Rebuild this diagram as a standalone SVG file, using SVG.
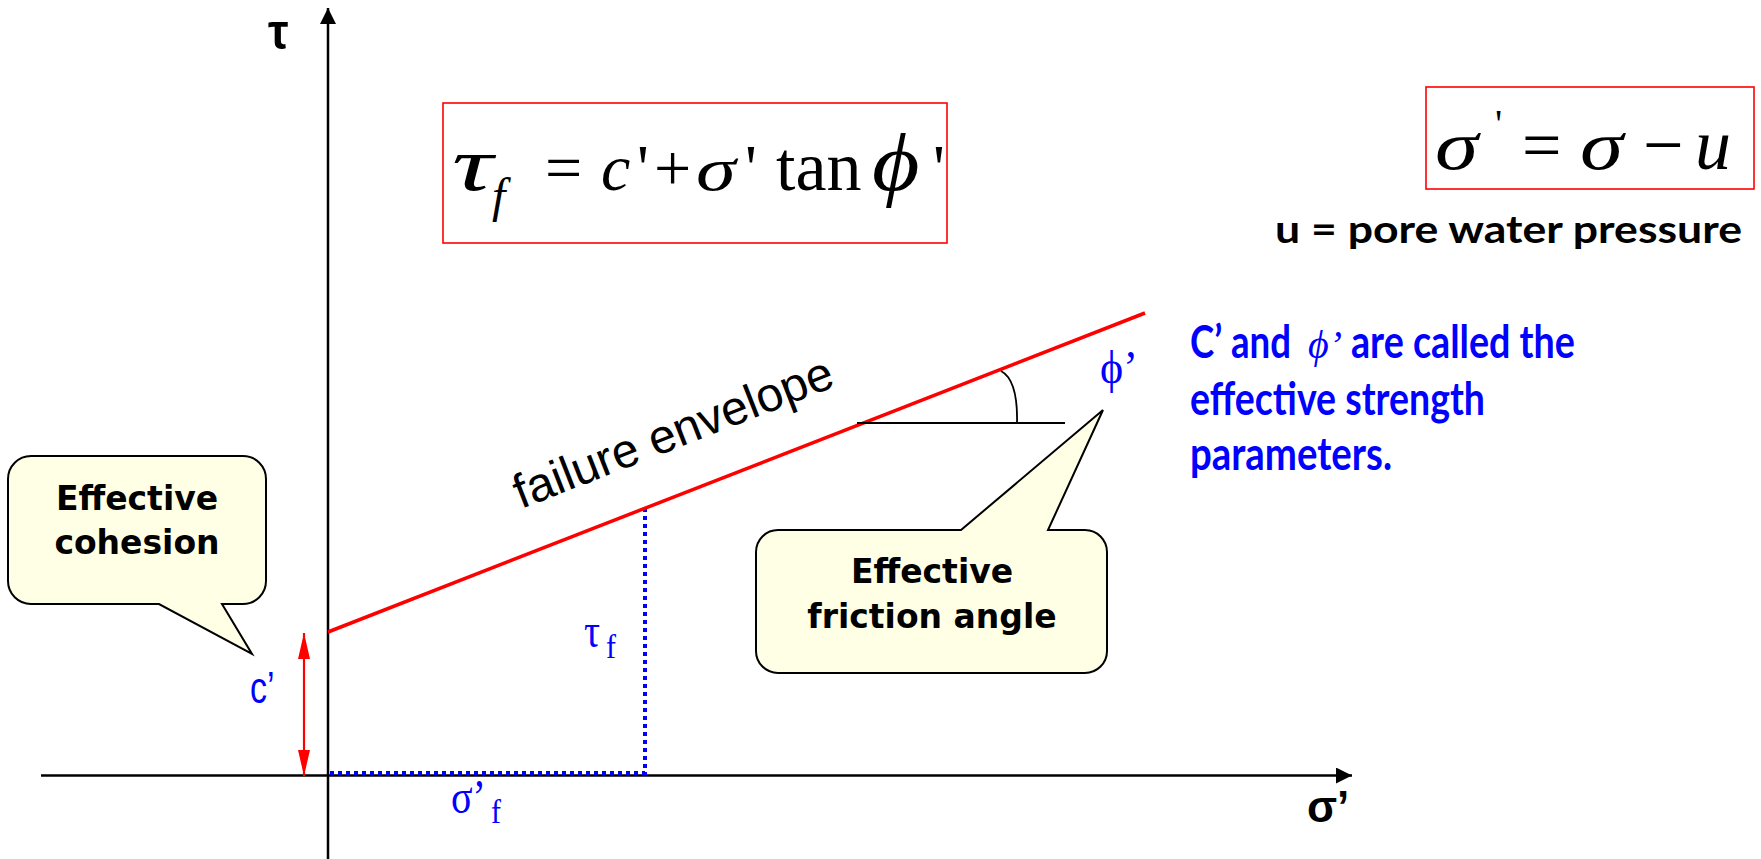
<svg xmlns="http://www.w3.org/2000/svg" width="1761" height="859" viewBox="0 0 1761 859">
<defs>
<style>
.axis{stroke:#000;stroke-width:2.5;fill:none}
.env{stroke:#FF0000;stroke-width:3.5;fill:none}
.dot{stroke:#0000FF;stroke-width:4;stroke-dasharray:4 4;fill:none}
.thin{stroke:#000;stroke-width:1.8;fill:none}
.box{fill:#fff;stroke:#FF0000;stroke-width:1.6}
.call{fill:#FFFFE5;stroke:#000;stroke-width:2}
.ct{font-family:"DejaVu Sans",Verdana,sans-serif;font-weight:bold;font-size:33px;fill:#000;text-anchor:middle}
.serif{font-family:"Liberation Serif","DejaVu Serif",serif}
.it{font-style:italic}
.sans{font-family:"Liberation Sans",Arial,sans-serif}
.cal{font-family:Lato,"Open Sans",sans-serif;font-weight:bold}
.blue{fill:#0000FF}
</style>
<marker id="ah" markerUnits="userSpaceOnUse" markerWidth="16" markerHeight="16" refX="16" refY="8" orient="auto" viewBox="0 0 16 16">
<path d="M0,0 L16,8 L0,16 Z" fill="#000"/>
</marker>
<marker id="rh" markerUnits="userSpaceOnUse" markerWidth="26" markerHeight="12" refX="26" refY="6" orient="auto-start-reverse" viewBox="0 0 26 12">
<path d="M0,0 L26,6 L0,12 Z" fill="#FF0000"/>
</marker>
</defs>
<rect width="1761" height="859" fill="#fff"/>

<g id="connectors">
<line class="axis" x1="328" y1="859" x2="328" y2="8" marker-end="url(#ah)"/>
<line class="axis" x1="41" y1="775.5" x2="1352" y2="775.5" marker-end="url(#ah)"/>
<line class="dot" x1="330" y1="773" x2="645" y2="773"/>
<line class="dot" x1="645" y1="508" x2="645" y2="775"/>
<line class="env" x1="328" y1="632" x2="1145" y2="313"/>
<line class="thin" x1="857" y1="423" x2="1065" y2="423"/>
<path class="thin" d="M1001,371 Q1018,380 1017,423"/>
<line stroke="#FF0000" stroke-width="2.2" x1="304" y1="633" x2="304" y2="776" marker-start="url(#rh)" marker-end="url(#rh)"/>
</g>

<g id="axis-labels">
<text class="sans" font-weight="bold" font-size="46" transform="translate(268,49) scale(1,1.1)">τ</text>
<text class="sans" font-weight="bold" font-size="44" x="1307" y="822">σ’</text>
</g>

<g id="formula-main">
<rect class="box" x="443" y="103" width="504" height="140"/>
<text class="serif it" font-size="76" transform="translate(452,190) scale(1.5,1)">τ</text>
<text class="serif it" font-size="48" x="492" y="212">f</text>
<text class="serif" font-size="66" y="190"><tspan x="545">=</tspan><tspan class="it" x="601">c</tspan><tspan x="637">'</tspan><tspan x="654">+</tspan></text>
<text class="serif it" font-size="62" transform="translate(696,190) scale(1.3,1)">σ</text>
<text class="serif" font-size="66" x="745" y="190">'</text>
<text class="serif" font-size="70" x="776" y="190">tan</text>
<text class="serif it" font-size="82" transform="translate(872,190) scale(1.12,1)">ϕ</text>
<text class="serif" font-size="66" x="933" y="190">'</text>
</g>

<g id="formula-effective">
<rect class="box" x="1426" y="87" width="328" height="102"/>
<text class="serif it" font-size="70" transform="translate(1435,169) scale(1.25,1)">σ</text>
<text class="serif" font-size="40" x="1495" y="137">'</text>
<text class="serif" font-size="70" x="1522" y="169">=</text>
<text class="serif it" font-size="70" transform="translate(1580,169) scale(1.25,1)">σ</text>
<text class="serif" font-size="72" x="1643" y="169">−</text>
<text class="serif it" font-size="72" x="1695" y="169">u</text>
<text class="cal" font-size="38" x="1275" y="243" textLength="467" lengthAdjust="spacingAndGlyphs">u = pore water pressure</text>
</g>

<g id="note">
<text class="cal blue" font-size="46" x="1190" y="358" textLength="101" lengthAdjust="spacingAndGlyphs">C’ and</text>
<text class="serif it blue" font-size="40" x="1308" y="358">ϕ’</text>
<text class="cal blue" font-size="46" x="1351" y="358" textLength="224" lengthAdjust="spacingAndGlyphs">are called the</text>
<text class="cal blue" font-size="46" x="1190" y="415" textLength="295" lengthAdjust="spacingAndGlyphs">effective strength</text>
<text class="cal blue" font-size="46" x="1190" y="470" textLength="202" lengthAdjust="spacingAndGlyphs">parameters.</text>
</g>

<g id="envelope-label">
<text class="sans" font-size="48" transform="translate(521,509) rotate(-21.3)">failure envelope</text>
</g>

<g id="phi-label">
<text class="serif blue" font-size="44" transform="translate(1100,383) scale(1,1.05)">ϕ’</text>
</g>

<g id="c-label">
<text class="sans blue" font-size="34" transform="translate(250,703) scale(1,1.3)">c’</text>
</g>

<g id="tau-f-label">
<text class="serif blue" font-size="40" transform="translate(584,647) scale(1,1.2)">τ</text>
<text class="serif blue" font-size="30" transform="translate(606,658) scale(1,1.1)">f</text>
</g>

<g id="sigma-f-label">
<text class="serif blue" font-size="40" transform="translate(451,813) scale(1,1.2)">σ’</text>
<text class="serif blue" font-size="30" transform="translate(491,823) scale(1,1.1)">f</text>
</g>

<g id="callout-cohesion">
<path class="call" d="M31,456 H243 A23,23 0 0 1 266,479 V581 A23,23 0 0 1 243,604 H222 L252,654 L159,604 H31 A23,23 0 0 1 8,581 V479 A23,23 0 0 1 31,456 Z"/>
<text class="ct" x="137" y="510">Effective</text>
<text class="ct" x="137" y="554">cohesion</text>
</g>

<g id="callout-friction">
<path class="call" d="M778,530 H961 L1103,410 L1048,530 H1085 A22,22 0 0 1 1107,552 V651 A22,22 0 0 1 1085,673 H778 A22,22 0 0 1 756,651 V552 A22,22 0 0 1 778,530 Z"/>
<text class="ct" x="932" y="583">Effective</text>
<text class="ct" x="932" y="628">friction angle</text>
</g>
</svg>
